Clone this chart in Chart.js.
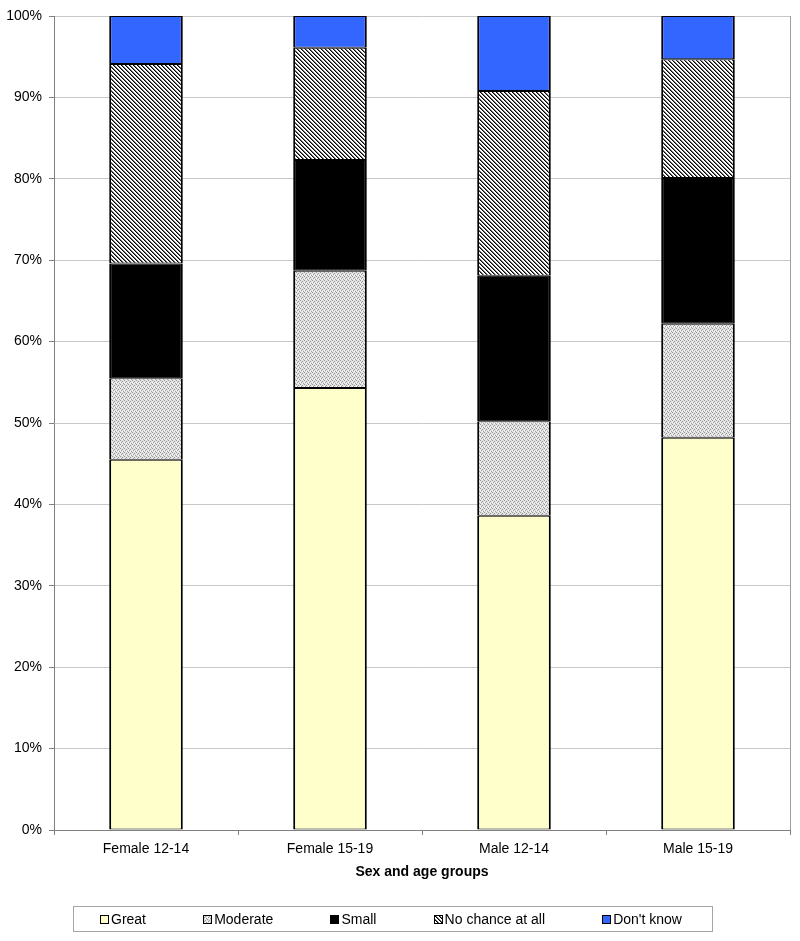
<!DOCTYPE html>
<html>
<head>
<meta charset="utf-8">
<script src="https://cdn.jsdelivr.net/npm/chart.js@4.4.0/dist/chart.umd.min.js"></script>
<style>
  body { margin: 0; background: #fff; }
  #wrap { position: relative; width: 800px; height: 941px; }
  #legend {
    position: absolute; left: 73px; top: 906px; width: 640px; height: 26px;
    box-sizing: border-box; border: 1px solid #a6a6a6;
    display: flex; justify-content: space-between; align-items: center;
    padding: 0 30px 0 26px;
    font: 14px "Liberation Sans", Arial, sans-serif; color: #000;
  }
  .item { display: flex; align-items: center; }
  .item canvas { margin-right: 2px; }
</style>
</head>
<body>
<div id="wrap">
  <canvas id="chart" width="800" height="941"></canvas>
  <div id="legend"></div>
</div>
<script>
const categories = ["Female 12-14", "Female 15-19", "Male 12-14", "Male 15-19"];
const seriesNames = ["Great", "Moderate", "Small", "No chance at all", "Don't know"];
const great    = [45.5, 54.3, 38.6, 48.2];
const moderate = [10.0, 14.4, 11.6, 14.0];
const small    = [14.1, 13.6, 17.9, 17.9];
const noChance = [24.5, 13.8, 22.7, 14.6];
const dontKnow = [5.9, 3.9, 9.2, 5.3];
const yTicks = [0, 10, 20, 30, 40, 50, 60, 70, 80, 90, 100];

// fill styles: plain colours or small tiled patterns
function stripes(ctx) {
  const c = document.createElement("canvas");
  c.width = c.height = 4;
  const g = c.getContext("2d");
  g.fillStyle = "#fff"; g.fillRect(0, 0, 4, 4);
  for (let i = 0; i < 4; i++) {
    g.fillStyle = "#000"; g.fillRect(i, i, 1, 1);
    g.fillStyle = "#707070"; g.fillRect((i + 1) % 4, i, 1, 1);
  }
  return ctx.createPattern(c, "repeat");
}
function stipple(ctx) {
  const c = document.createElement("canvas");
  c.width = c.height = 4;
  const g = c.getContext("2d");
  g.fillStyle = "#e2e2e2"; g.fillRect(0, 0, 4, 4);
  g.fillStyle = "#999";
  [[0, 0], [2, 1], [1, 2], [3, 3]].forEach(p => g.fillRect(p[0], p[1], 1, 1));
  g.fillStyle = "#fff";
  [[2, 3], [0, 2]].forEach(p => g.fillRect(p[0], p[1], 1, 1));
  return ctx.createPattern(c, "repeat");
}
function fills(ctx) {
  return ["#ffffcc", stipple(ctx), "#000000", stripes(ctx), "#3366ff"];
}

const ctx = document.getElementById("chart").getContext("2d");
const f = fills(ctx);
const values = [great, moderate, small, noChance, dontKnow];

const plotBorder = {
  id: "plotBorder",
  beforeDatasetsDraw(chart) {
    const a = chart.chartArea, c = chart.ctx;
    c.save();
    c.strokeStyle = "#a0a0a0";
    c.lineWidth = 1;
    c.beginPath();
    c.moveTo(Math.round(a.right) + 0.5, a.top);
    c.lineTo(Math.round(a.right) + 0.5, a.bottom);
    c.stroke();
    c.restore();
  }
};

const font = { family: "'Liberation Sans', Arial, sans-serif", size: 14 };

new Chart(ctx, {
  type: "bar",
  data: {
    labels: categories,
    datasets: seriesNames.map((name, i) => ({
      label: name,
      data: values[i],
      backgroundColor: f[i],
      borderColor: "#000",
      borderWidth: { top: 1, bottom: 1, left: 2, right: 2 },
      borderSkipped: false,
      barPercentage: 0.4,
      categoryPercentage: 1.0
    }))
  },
  options: {
    responsive: false,
    animation: false,
    layout: { padding: { top: 16, right: 10, left: 0, bottom: 48 } },
    plugins: { legend: { display: false }, tooltip: { enabled: false } },
    scales: {
      x: {
        stacked: true,
        afterFit: s => { s.height = 63; },
        grid: { offset: true, drawOnChartArea: false, drawTicks: true, tickLength: 5, tickColor: "#808080" },
        border: { color: "#808080", width: 1 },
        ticks: { color: "#000", font: font, padding: 6 },
        title: { display: true, text: "Sex and age groups", color: "#000",
                 font: { family: font.family, size: 14, weight: "bold" }, padding: { top: 0, bottom: 12 } }
      },
      y: {
        stacked: true,
        min: 0, max: 100,
        afterFit: s => { s.width = 54; },
        afterBuildTicks: s => { s.ticks = yTicks.map(v => ({ value: v })); },
        grid: { color: "#c8c8c8", tickLength: 5, tickColor: "#808080" },
        border: { color: "#808080", width: 1 },
        ticks: { color: "#000", font: font, padding: 7, callback: v => v + "%" }
      }
    }
  },
  plugins: [plotBorder]
});

// legend built from the series names
const legend = document.getElementById("legend");
seriesNames.forEach((name, i) => {
  const item = document.createElement("div");
  item.className = "item";
  const sw = document.createElement("canvas");
  sw.width = 9; sw.height = 9;
  const g = sw.getContext("2d");
  g.fillStyle = fills(g)[i];
  g.fillRect(0, 0, 9, 9);
  g.strokeStyle = "#000";
  g.lineWidth = 1;
  g.strokeRect(0.5, 0.5, 8, 8);
  const txt = document.createElement("span");
  txt.textContent = name;
  item.appendChild(sw);
  item.appendChild(txt);
  legend.appendChild(item);
});
</script>
</body>
</html>
